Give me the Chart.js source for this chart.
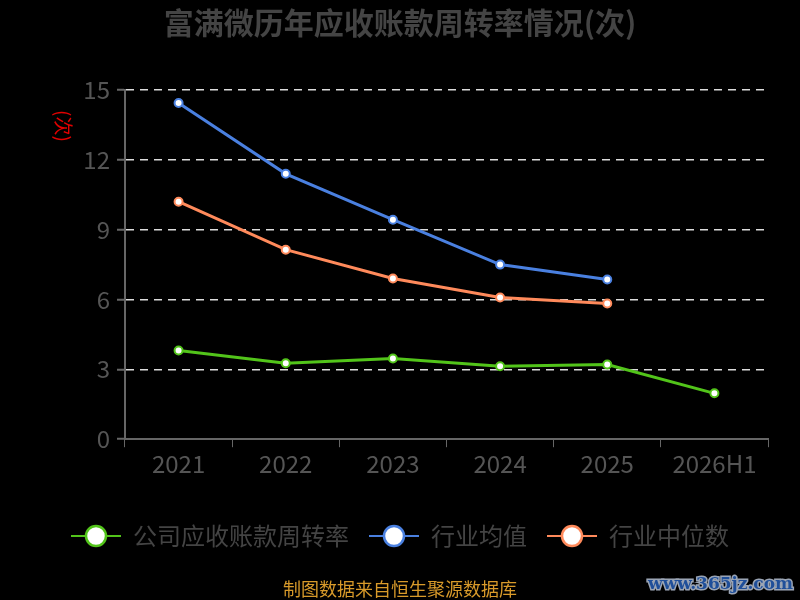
<!DOCTYPE html>
<html>
<head>
<meta charset="utf-8">
<script src="https://cdn.jsdelivr.net/npm/chart.js@4"></script>
<style>
  html, body { margin: 0; padding: 0; background: #000; }
  #wrap { width: 800px; height: 600px; position: relative; }
</style>
</head>
<body>
<div id="wrap"><canvas id="grafik" width="800" height="600"></canvas></div>
<script>
const kategori = ['2021', '2022', '2023', '2024', '2025', '2026H1'];
const nilaiPerusahaan = [3.81, 3.26, 3.47, 3.13, 3.21, 1.97];
const nilaiRataRata = [14.44, 11.4, 9.43, 7.5, 6.86, null];
const nilaiMedian = [10.2, 8.14, 6.9, 6.09, 5.83, null];
const tickY = [0, 3, 6, 9, 12, 15];

const namaSeri = ['公司应收账款周转率', '行业均值', '行业中位数'];
const warnaSeri = ['#52c41a', '#4a80e0', '#ff8a5b'];

Chart.defaults.font.family = "'Noto Sans CJK SC', 'Noto Sans', sans-serif";

// ikon legenda: garis + lingkaran
function buatIkon(warna) {
    const c = document.createElement('canvas');
    c.width = 50; c.height = 26;
    const g = c.getContext('2d');
    g.strokeStyle = warna;
    g.lineWidth = 2;
    g.beginPath(); g.moveTo(0, 13); g.lineTo(50, 13); g.stroke();
    g.fillStyle = '#fff';
    g.lineWidth = 2.5;
    g.beginPath(); g.arc(25, 13, 10, 0, Math.PI * 2); g.fill(); g.stroke();
    return c;
}
const ikon = warnaSeri.map(buatIkon);

const teksTambahan = {
    id: 'teksTambahan',
    afterDraw(chart) {
        const ctx = chart.ctx;
        ctx.save();
        // label sumbu y
        ctx.translate(63, 126);
        ctx.rotate(Math.PI / 2);
        ctx.fillStyle = '#e00000';
        ctx.font = "19px 'Noto Sans CJK SC'";
        ctx.textAlign = 'center';
        ctx.textBaseline = 'middle';
        ctx.fillText('(次)', 0, 0);
        ctx.restore();

        ctx.save();
        ctx.font = "18px 'Noto Sans CJK SC'";
        ctx.fillStyle = '#d89a2a';
        ctx.textAlign = 'center';
        ctx.textBaseline = 'middle';
        ctx.fillText('制图数据来自恒生聚源数据库', 400, 589);
        ctx.font = "bold 17px 'DejaVu Serif'";
        ctx.textAlign = 'right';
        ctx.lineWidth = 3;
        ctx.strokeStyle = '#9aa4b4';
        ctx.strokeText('www.365jz.com', 793, 585);
        ctx.fillStyle = '#1f4f9a';
        ctx.fillText('www.365jz.com', 793, 585);
        ctx.restore();
    }
};

const ctx = document.getElementById('grafik').getContext('2d');
new Chart(ctx, {
    type: 'line',
    data: {
        labels: kategori,
        datasets: [
            { label: namaSeri[0], data: nilaiPerusahaan },
            { label: namaSeri[1], data: nilaiRataRata },
            { label: namaSeri[2], data: nilaiMedian }
        ].map((d, i) => Object.assign(d, {
            borderColor: warnaSeri[i],
            backgroundColor: '#fff',
            borderWidth: 3,
            pointRadius: 4,
            pointBorderWidth: 2,
            pointBackgroundColor: '#fff',
            pointBorderColor: warnaSeri[i],
            tension: 0,
            spanGaps: false
        }))
    },
    options: {
        responsive: false,
        animation: false,
        layout: { padding: { left: 32, right: 32, top: 0, bottom: 42 } },
        scales: {
            x: {
                offset: true,
                afterFit: axis => { axis.height += 24; },
                grid: {
                    display: true,
                    drawOnChartArea: false,
                    offset: true,
                    tickLength: 8,
                    color: '#666'
                },
                border: { color: '#666', width: 2 },
                ticks: { color: '#555', font: { size: 24 }, padding: 2 }
            },
            y: {
                min: 0,
                max: 15,
                afterBuildTicks: axis => { axis.ticks = tickY.map(v => ({ value: v })); },
                afterFit: axis => { axis.width = 93; },
                grid: {
                    color: '#dcdcdc',
                    lineWidth: 1.5,
                    tickLength: 8,
                    tickColor: '#666',
                    tickWidth: 2,
                    tickBorderDash: []
                },
                border: { color: '#666', width: 2, dash: [8, 6] },
                ticks: { color: '#555', font: { size: 24 }, padding: 7 }
            }
        },
        plugins: {
            title: {
                display: true,
                text: '富满微历年应收账款周转率情况(次)',
                color: '#444',
                font: { size: 30, weight: 'bold' },
                padding: { top: 5, bottom: 49 }
            },
            legend: {
                position: 'bottom',
                labels: {
                    color: '#444',
                    font: { size: 24 },
                    usePointStyle: true,
                    pointStyleWidth: 50,
                    padding: 20,
                    generateLabels: chart => chart.data.datasets.map((d, i) => ({
                        text: d.label,
                        pointStyle: ikon[i],
                        fontColor: '#444',
                        datasetIndex: i,
                        lineWidth: 0,
                        strokeStyle: 'transparent',
                        fillStyle: 'transparent'
                    }))
                }
            },
            tooltip: { enabled: false }
        }
    },
    plugins: [teksTambahan]
});
</script>
</body>
</html>
